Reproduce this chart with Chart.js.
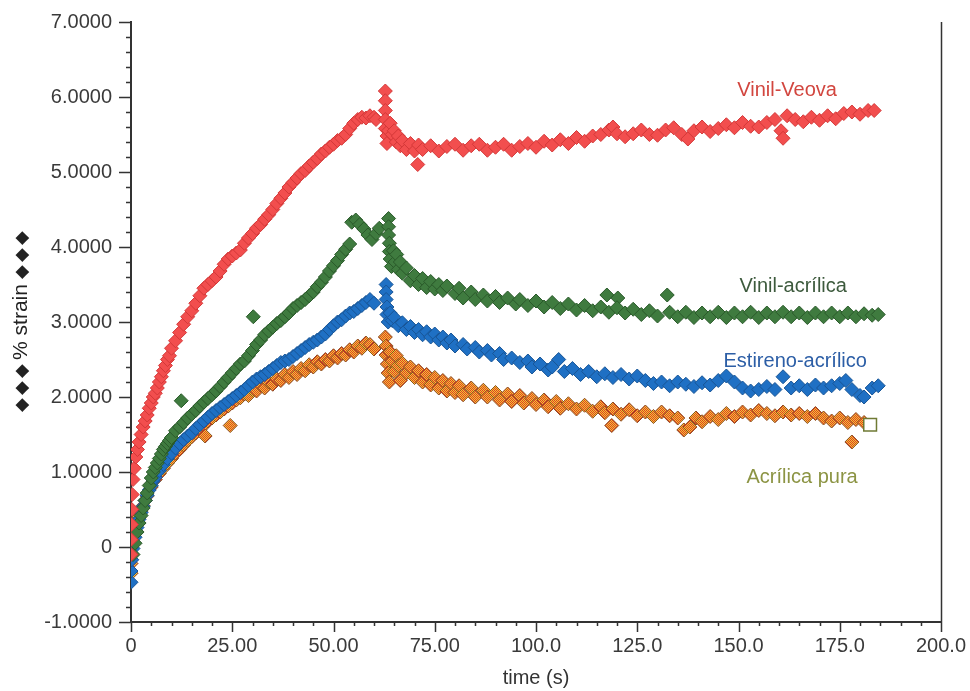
<!DOCTYPE html>
<html>
<head>
<meta charset="utf-8">
<script src="https://cdn.jsdelivr.net/npm/chart.js@4/dist/chart.umd.min.js"></script>
<style>
  html, body { margin: 0; padding: 0; background: #ffffff; }
  #c { display: block; }
</style>
</head>
<body>
<canvas id="c" width="970" height="691"></canvas>
<script>
// Creep curves: % strain versus time (s) for four latex binders.
const seriesNames = ['Vinil-Veova', 'Vinil-acrílica', 'Estireno-acrílico', 'Acrílica pura'];
const xTitle = 'time (s)';
const yTitle = '% strain';

const vinilVeova = [
  [0,-0.1],[0,0.1],[0.1,0.3],[0.2,0.5],[0.3,0.7],[0.5,0.9],[0.8,1.05],[1.2,1.2],[1.6,1.3],
  [2,1.4],[2.5,1.5],[3,1.6],[3.5,1.68],[4,1.76],[4.5,1.85],[5,1.92],[5.5,2.0],[6,2.05],[6.5,2.12],
  [7,2.2],[7.5,2.27],[8,2.35],[8.5,2.42],[9,2.5],[9.5,2.55],[10,2.65],[11,2.75],[12,2.86],[13,2.97],
  [14,3.07],[15,3.15],[16,3.25],[17,3.35],[18,3.45],[19,3.5],[20,3.55],[21,3.6],[22,3.68],[23,3.77],
  [24,3.84],[25,3.88],[26,3.92],[27,3.96],[28,4.05],[29,4.12],[30,4.18],[31,4.25],[32,4.3],[33,4.37],
  [34,4.43],[35,4.5],[36,4.58],[37,4.65],[38,4.72],[39,4.8],[40,4.86],[41,4.92],[42,4.98],[43,5.02],
  [44,5.08],[45,5.13],[46,5.18],[47,5.24],[48,5.28],[49,5.33],[50,5.37],[51,5.42],[52,5.45],[53,5.5],
  [54,5.58],[55,5.65],[56,5.7],[57,5.73],[58,5.72],[59,5.75],[60,5.73],[60.5,5.7],
  [62.8,6.08],[62.8,5.95],[62.8,5.82],[62.8,5.7],[62.8,5.58],[63.2,5.48],[63.2,5.38],[63.6,5.55],
  [64,5.65],[64.5,5.5],[65,5.55],[65.5,5.4],[66,5.48],[66.5,5.35],[67,5.42],[68,5.3],[69,5.38],
  [70,5.28],[70.8,5.1],[71,5.36],[72,5.3],[74,5.35],[76,5.28],[78,5.34],[80,5.37],[82,5.29],[84,5.35],
  [86,5.37],[88,5.29],[90,5.33],[92,5.37],[94,5.29],[96,5.34],[98,5.38],[100,5.33],[102,5.41],[104,5.36],
  [106,5.43],[108,5.38],[110,5.46],[112,5.41],[114,5.48],[116,5.5],[118,5.56],[119,5.6],[120,5.51],
  [122,5.47],[124,5.51],[126,5.56],[128,5.5],[130,5.49],[132,5.56],[134,5.59],[136,5.5],[137.5,5.44],
  [139,5.55],[141,5.6],[143,5.54],[145,5.58],[147,5.63],[149,5.59],[151,5.66],[153,5.61],[155,5.6],
  [157,5.66],[159,5.7],[160.5,5.55],[161,5.45],[162,5.75],[164,5.7],[166,5.67],[168,5.73],[170,5.69],
  [172,5.75],[174,5.71],[176,5.78],[178,5.8],[180,5.77],[182,5.82],[183.5,5.82]
];

const vinilAcrilica = [
  [0.5,-0.1],[1,0.05],[1.5,0.2],[2,0.32],[2.5,0.42],[3,0.52],[3.5,0.62],[4,0.72],[4.5,0.82],[5,0.92],
  [5.5,1.0],[6,1.06],[6.5,1.12],[7,1.18],[7.5,1.24],[8,1.3],[8.5,1.34],[9,1.38],[9.5,1.42],[10,1.46],
  [11,1.55],[12,1.6],[12.4,1.95],[13,1.66],[14,1.72],[15,1.77],[16,1.82],[17,1.88],[18,1.93],[19,1.98],
  [20,2.03],[21,2.08],[22,2.14],[23,2.2],[24,2.26],[25,2.32],[26,2.38],[27,2.44],[28,2.48],[29,2.55],
  [30,2.62],[30.2,3.07],[31,2.7],[32,2.76],[33,2.83],[34,2.88],[35,2.93],[36,2.98],[37,3.02],[38,3.07],
  [39,3.12],[40,3.18],[41,3.22],[42,3.26],[43,3.3],[44,3.35],[45,3.4],[46,3.47],[47,3.53],[48,3.6],
  [49,3.68],[50,3.75],[51,3.82],[52,3.9],[53,3.97],[54,4.04],[54.5,4.33],[55.5,4.36],[56.5,4.3],
  [57.5,4.24],[58.5,4.16],[59.5,4.1],[60.5,4.18],[61.3,4.25],
  [63.6,4.38],[63.6,4.27],[63.6,4.16],[63.8,4.05],[63.8,3.94],[64,3.84],[64.3,3.74],[64.8,3.95],
  [65.2,3.8],[65.6,3.9],[66,3.7],[66.5,3.8],[67,3.65],[68,3.72],[69,3.55],[70,3.62],[71,3.5],[72,3.58],
  [73,3.46],[74,3.54],[75,3.44],[76,3.5],[77,3.42],[78,3.48],[80,3.38],[81,3.45],[82,3.32],[84,3.4],
  [85,3.3],[87,3.36],[88,3.28],[90,3.34],[91,3.26],[93,3.32],[95,3.24],[96,3.3],[98,3.22],[100,3.28],
  [102,3.2],[104,3.26],[106,3.18],[108,3.24],[110,3.16],[112,3.22],[114,3.15],[116,3.2],[117.5,3.36],
  [118,3.13],[120.2,3.32],[120,3.19],[122,3.12],[124,3.17],[126,3.1],[128,3.15],[130,3.08],[132.4,3.36],
  [133,3.13],[135,3.07],[137,3.13],[139,3.06],[141,3.12],[143,3.07],[145,3.13],[147,3.06],[149,3.12],
  [151,3.07],[153,3.13],[155,3.06],[157,3.12],[159,3.07],[161,3.13],[163,3.07],[165,3.12],[167,3.06],
  [169,3.12],[171,3.07],[173,3.12],[175,3.07],[177,3.12],[179,3.07],[181,3.11],[183,3.09],[184.5,3.1]
];

const estirenoAcrilico = [
  [0,-0.47],[0,-0.32],[0.2,-0.17],[0.5,-0.02],[1,0.13],[1.5,0.26],[2,0.37],[2.5,0.46],[3,0.54],
  [3.5,0.62],[4,0.69],[4.5,0.76],[5,0.82],[5.5,0.88],[6,0.93],[7,1.02],[8,1.1],[9,1.18],[10,1.25],
  [11,1.32],[12,1.38],[13,1.43],[14,1.48],[15,1.52],[16,1.58],[17,1.63],[18,1.68],[19,1.73],[20,1.78],
  [21,1.82],[22,1.86],[23,1.9],[24,1.94],[25,1.98],[26,2.02],[27,2.06],[28,2.1],[29,2.15],[30,2.2],
  [31,2.24],[32,2.27],[33,2.3],[34,2.34],[35,2.38],[36,2.42],[37,2.46],[38,2.48],[39,2.5],[40,2.54],
  [41,2.58],[42,2.62],[43,2.66],[44,2.7],[45,2.73],[46,2.76],[47,2.8],[48,2.84],[49,2.9],[50,2.95],
  [51,3.0],[52,3.03],[53,3.08],[54,3.12],[55,3.14],[56,3.18],[57,3.22],[58,3.26],[59,3.3],[60,3.25],
  [63,3.5],[63,3.4],[63,3.3],[63.2,3.2],[63.2,3.1],[63.5,3.0],[64,3.12],[64.5,3.02],[65,3.06],
  [66,2.95],[67,2.99],[68,2.9],[69,2.94],[70,2.86],[71,2.9],[72,2.83],[73,2.87],[74,2.8],[75,2.84],
  [76,2.76],[77,2.8],[78,2.72],[79,2.76],[80,2.68],[82,2.7],[83,2.64],[85,2.66],[86,2.6],[88,2.62],
  [89,2.56],[91,2.58],[92,2.5],[94,2.52],[96,2.46],[98,2.48],[99,2.4],[101,2.44],[103,2.36],[104,2.4],
  [105.6,2.5],[107,2.34],[109,2.38],[111,2.3],[113,2.34],[115,2.27],[117,2.31],[119,2.26],[121,2.3],
  [123,2.24],[125,2.28],[127,2.22],[129,2.18],[131,2.2],[133,2.15],[135,2.2],[137,2.17],[139,2.14],
  [141,2.19],[143,2.16],[145,2.22],[147,2.28],[149,2.2],[151,2.12],[153,2.08],[155,2.1],[157,2.14],
  [159,2.1],[161,2.27],[163,2.12],[165,2.15],[167,2.1],[169,2.16],[171,2.12],[173,2.15],[175,2.18],
  [176.5,2.22],[178,2.1],[180,2.02],[181,2.0],[183,2.12],[184.5,2.15]
];

const acrilicaPura = [
  [0,-0.35],[0,-0.22],[0.2,-0.1],[0.5,0.05],[1,0.18],[1.5,0.3],[2,0.4],[2.5,0.48],[3,0.55],[3.5,0.62],
  [4,0.68],[5,0.8],[6,0.9],[7,0.98],[8,1.05],[9,1.12],[10,1.18],[11,1.25],[12,1.3],[13,1.36],[14,1.42],
  [15,1.47],[16,1.52],[17,1.57],[18,1.62],[18.3,1.48],[19,1.68],[20,1.72],[21,1.76],[22,1.8],[23,1.84],
  [24,1.88],[24.5,1.62],[25,1.92],[26,1.96],[27,1.99],[28,2.04],[29,2.02],[30,2.1],[31,2.08],[32,2.16],
  [33,2.12],[34,2.2],[35,2.17],[36,2.24],[37,2.22],[38,2.3],[39,2.26],[40,2.34],[41,2.3],[42,2.38],
  [43,2.35],[44,2.43],[45,2.4],[46,2.47],[47,2.44],[48,2.5],[49,2.48],[50,2.55],[51,2.52],[52,2.58],
  [53,2.56],[54,2.63],[55,2.6],[56,2.68],[57,2.65],[58,2.72],[59,2.7],[60,2.64],
  [62.8,2.8],[63,2.68],[63,2.56],[63.3,2.44],[63.5,2.32],[63.8,2.2],[64,2.6],[64.5,2.48],[65,2.34],
  [65.5,2.55],[66,2.42],[66.5,2.22],[67,2.45],[68,2.32],[69,2.4],[70,2.26],[71,2.35],[72,2.2],[73,2.3],
  [74,2.16],[75,2.26],[76,2.12],[77,2.22],[78,2.08],[79,2.18],[80,2.06],[81,2.15],[82,2.03],[84,2.12],
  [85,2.0],[87,2.09],[88,2.0],[90,2.06],[91,1.96],[93,2.04],[94,1.94],[96,2.02],[97,1.92],[99,1.98],
  [100,1.9],[102,1.96],[103,1.87],[105,1.94],[106,1.85],[108,1.91],[110,1.84],[112,1.89],[114,1.81],
  [116,1.87],[117,1.79],[118.7,1.62],[119,1.84],[121,1.77],[123,1.83],[125,1.75],[127,1.8],[129,1.74],
  [131,1.8],[133,1.75],[135,1.72],[136.5,1.56],[138,1.6],[139.5,1.72],[141,1.67],[143,1.74],[145,1.7],
  [147,1.78],[149,1.74],[151,1.8],[153,1.76],[155,1.82],[157,1.78],[159,1.75],[161,1.8],[163,1.76],
  [165,1.78],[167,1.74],[169,1.78],[171,1.72],[173,1.68],[175,1.72],[177,1.66],[178,1.4],[179,1.7],
  [181,1.66]
];

// last reading of the pure acrylic run, drawn as an open square
const acrilicaPuraEnd = [[182.5, 1.63]];

// axis tick values
const timeTicks = [0, 25, 50, 75, 100, 125, 150, 175, 200];
const strainTicks = [-1, 0, 1, 2, 3, 4, 5, 6, 7];

const FONT = '"Liberation Sans", Arial, Helvetica, sans-serif';
const canvas = document.getElementById('c');
const ctx2d = canvas.getContext('2d');

// red / yellow dithered fill used for the pure acrylic markers
function ditherFill() {
  const p = document.createElement('canvas');
  p.width = 2; p.height = 2;
  const g = p.getContext('2d');
  g.fillStyle = '#e03c28'; g.fillRect(0, 0, 2, 2);
  g.fillStyle = '#f0c832'; g.fillRect(1, 0, 1, 1); g.fillRect(0, 1, 1, 1);
  return ctx2d.createPattern(p, 'repeat');
}

const toPoints = arr => arr.map(([t, s]) => ({ x: t, y: s }));

const diamond = (data, fill, edge, label) => ({
  label, data: toPoints(data), pointStyle: 'rectRot', pointRadius: 7, pointHoverRadius: 7,
  backgroundColor: fill, borderColor: edge, borderWidth: 1, showLine: false
});

const labelColors = ['#d2463f', '#3d5a3d', '#2c5ea6', '#8c9444'];
const labelAnchors = [[162, 6.09], [163.5, 3.47], [164, 2.48], [165.7, 0.93]];

// minor/major tick marks, right frame and the strain axis title
const axisDecor = {
  id: 'axisDecor',
  afterDraw(chart) {
    const { ctx, chartArea: a, scales: { x, y } } = chart;
    ctx.save();
    ctx.strokeStyle = '#333';
    ctx.lineWidth = 1.5;
    ctx.beginPath();
    for (let i = 0; i <= 40; i++) {
      const v = y.min + i * 0.2;
      const py = Math.round(y.getPixelForValue(v)) + 0.5;
      const len = i % 5 === 0 ? 12 : 5;
      ctx.moveTo(a.left - len, py); ctx.lineTo(a.left, py);
    }
    for (let i = 0; i <= 40; i++) {
      const v = x.min + i * 5;
      const px = Math.round(x.getPixelForValue(v)) + 0.5;
      const len = i % 5 === 0 ? 10 : 4;
      ctx.moveTo(px, a.bottom); ctx.lineTo(px, a.bottom + len);
    }
    ctx.moveTo(Math.round(a.right) + 0.5, a.top);
    ctx.lineTo(Math.round(a.right) + 0.5, a.bottom);
    ctx.stroke();

    // rotated title with three black diamonds on each side
    ctx.translate(21, (a.top + a.bottom) / 2);
    ctx.rotate(-Math.PI / 2);
    ctx.fillStyle = '#222';
    ctx.textAlign = 'center';
    ctx.textBaseline = 'middle';
    ctx.font = '21px ' + FONT;
    ctx.fillText(yTitle, 0, 0);
    ctx.font = '18px "DejaVu Sans", sans-serif';
    for (let k = 0; k < 3; k++) {
      ctx.fillText('\u25C6', 50 + k * 17, 1);
      ctx.fillText('\u25C6', -(49 + k * 17), 1);
    }
    ctx.restore();
  }
};

// series names written next to each curve
const seriesNotes = {
  id: 'seriesNotes',
  afterDatasetsDraw(chart) {
    const { ctx, scales: { x, y } } = chart;
    ctx.save();
    ctx.font = '20px ' + FONT;
    ctx.textAlign = 'center';
    ctx.textBaseline = 'middle';
    seriesNames.forEach((name, i) => {
      ctx.fillStyle = labelColors[i];
      ctx.fillText(name, x.getPixelForValue(labelAnchors[i][0]), y.getPixelForValue(labelAnchors[i][1]));
    });
    ctx.restore();
  }
};

const fmtTime = v => v === 0 ? '0' : (v < 100 ? v.toFixed(2) : v.toFixed(1));
const fmtStrain = v => v === 0 ? '0' : v.toFixed(4);

new Chart(canvas, {
  type: 'scatter',
  data: {
    datasets: [
      {
        label: seriesNames[3], data: toPoints(acrilicaPuraEnd), pointStyle: 'rect', pointRadius: 9,
        pointHoverRadius: 9, backgroundColor: '#ffffff', borderColor: '#6f7a34', borderWidth: 1.5, showLine: false
      },
      diamond(vinilVeova, '#f24e4e', '#d43838', seriesNames[0]),
      diamond(vinilAcrilica, '#3f7b3f', '#2a5a2a', seriesNames[1]),
      diamond(estirenoAcrilico, '#1f70c4', '#185596', seriesNames[2]),
      diamond(acrilicaPura, ditherFill(), '#8a4a1e', seriesNames[3])
    ]
  },
  options: {
    responsive: false,
    animation: false,
    events: [],
    layout: { autoPadding: false, padding: { top: 22, right: 29, left: 0, bottom: 0 } },
    plugins: { legend: { display: false }, tooltip: { enabled: false } },
    scales: {
      x: {
        type: 'linear', min: 0, max: 200,
        afterBuildTicks: s => { s.ticks = timeTicks.map(v => ({ value: v })); },
        afterFit: s => { s.height = 69; s.paddingLeft = 0; s.paddingRight = 0; },
        grid: { display: false, drawTicks: false },
        border: { display: true, color: '#333', width: 2 },
        ticks: { callback: fmtTime, color: '#3a3a3a', font: { family: FONT, size: 20 }, padding: 12, maxRotation: 0, autoSkip: false },
        title: { display: true, text: xTitle, color: '#333', font: { family: FONT, size: 20 }, padding: { top: 0, bottom: 1 } }
      },
      y: {
        type: 'linear', min: -1, max: 7,
        afterBuildTicks: s => { s.ticks = strainTicks.map(v => ({ value: v })); },
        afterFit: s => { s.width = 131; s.paddingTop = 0; s.paddingBottom = 0; },
        grid: { display: false, drawTicks: false },
        border: { display: true, color: '#333', width: 2 },
        ticks: { callback: fmtStrain, color: '#3a3a3a', font: { family: FONT, size: 20 }, padding: 19, autoSkip: false },
        title: { display: false }
      }
    }
  },
  plugins: [axisDecor, seriesNotes]
});
</script>
</body>
</html>
